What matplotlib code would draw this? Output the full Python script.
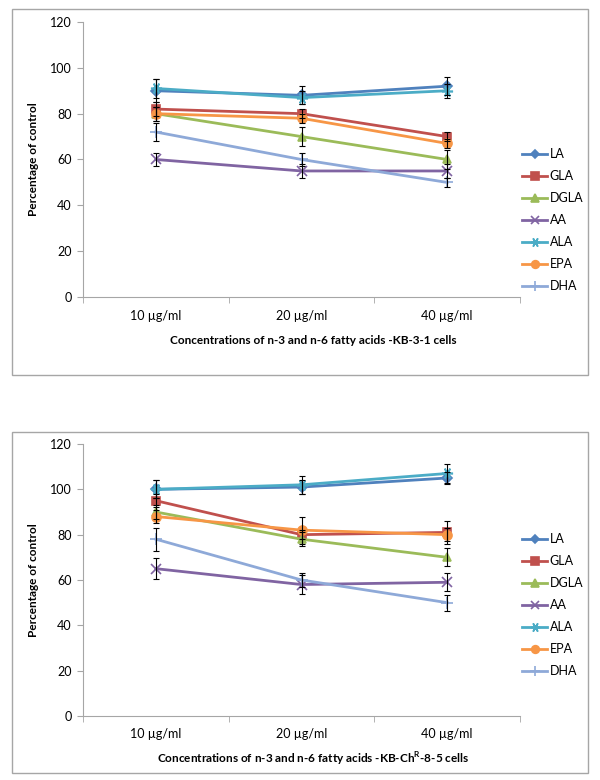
import matplotlib
matplotlib.use("Agg")
import matplotlib.pyplot as plt
from matplotlib.patches import Rectangle

plt.rcParams['font.family'] = ['Lato', 'DejaVu Sans']
plt.rcParams['mathtext.fontset'] = 'custom'
plt.rcParams['mathtext.rm'] = 'Lato'
plt.rcParams['mathtext.bf'] = 'Lato:bold'

conc = ['10 µg/ml', '20 µg/ml', '40 µg/ml']
acids = ['LA', 'GLA', 'DGLA', 'AA', 'ALA', 'EPA', 'DHA']

# KB-3-1 cells
kb31 = {
    'LA':   [90, 88, 92],
    'GLA':  [82, 80, 70],
    'DGLA': [80, 70, 60],
    'AA':   [60, 55, 55],
    'ALA':  [91, 87, 90],
    'EPA':  [80, 78, 67],
    'DHA':  [72, 60, 50],
}
kb31_err = {
    'LA':   [5, 4, 4],
    'GLA':  [3, 2, 2],
    'DGLA': [3, 4, 4],
    'AA':   [3, 3, 3],
    'ALA':  [4, 3, 3],
    'EPA':  [3, 2, 2],
    'DHA':  [4, 3, 2],
}

# KB-ChR-8-5 cells
kbchr = {
    'LA':   [100, 101, 105],
    'GLA':  [95, 80, 81],
    'DGLA': [90, 78, 70],
    'AA':   [65, 58, 59],
    'ALA':  [100, 102, 107],
    'EPA':  [88, 82, 80],
    'DHA':  [78, 60, 50],
}
kbchr_err = {
    'LA':   [4, 3, 2.5],
    'GLA':  [3, 2, 5],
    'DGLA': [3, 3, 4],
    'AA':   [4.5, 4, 4],
    'ALA':  [4, 4, 4],
    'EPA':  [3, 6, 3],
    'DHA':  [5, 3, 3.5],
}

colors = {'LA': '#4F81BD', 'GLA': '#C0504D', 'DGLA': '#9BBB59', 'AA': '#8064A2',
          'ALA': '#4BACC6', 'EPA': '#F79646', 'DHA': '#8EA9D8'}
markers = {'LA': 'D', 'GLA': 's', 'DGLA': '^', 'AA': 'x',
           'ALA': (6, 2, 90), 'EPA': 'o', 'DHA': '+'}
msizes = {'LA': 5, 'GLA': 6, 'DGLA': 6, 'AA': 7, 'ALA': 8, 'EPA': 6.5, 'DHA': 8}

W, H = 600, 780
fig = plt.figure(figsize=(6, 7.8), dpi=100)

# outer frames
for (x0, y0, x1, y1) in [(12, 9, 588, 375), (12, 432, 588, 773)]:
    fig.patches.append(Rectangle((x0 / W, 1 - y1 / H), (x1 - x0) / W, (y1 - y0) / H,
                                 transform=fig.transFigure, fill=False,
                                 edgecolor='#A6A6A6', linewidth=1))

panels = [
    (kb31, kb31_err, (83, 22, 520, 297), 'Concentrations of n-3 and n-6 fatty acids -KB-3-1 cells', 341, 143),
    (kbchr, kbchr_err, (83, 444, 520, 716),
     r'Concentrations of n-3 and n-6 fatty acids -KB-Ch$^{\mathbf{R}}$-8-5 cells', 759, 528),
]

x = list(range(len(conc)))
for data, err, (l, t, r, b), xtitle, xt_y, leg_y in panels:
    ax = fig.add_axes([l / W, 1 - b / H, (r - l) / W, (b - t) / H])
    handles = []
    for a in acids:
        ax.errorbar(x, data[a], yerr=err[a], fmt='none', ecolor='black',
                    elinewidth=0.8, capsize=2.5, capthick=0.8, zorder=3)
        h, = ax.plot(x, data[a], color=colors[a], marker=markers[a], markersize=msizes[a],
                     linewidth=2, markeredgewidth=1.2, zorder=2, label=a)
        handles.append(h)
    ax.set_ylim(0, 120)
    ax.set_yticks(range(0, 121, 20))
    ax.set_xlim(-0.5, 2.5)
    ax.set_xticks(x)
    ax.set_xticklabels(conc)
    ax.set_xticks([-0.5, 0.5, 1.5, 2.5], minor=True)
    ax.tick_params(axis='x', which='major', length=0, pad=9, labelsize=9)
    ax.tick_params(axis='x', which='minor', length=4, color='#A6A6A6', direction='out')
    ax.tick_params(axis='y', length=4, color='#A6A6A6', direction='out', labelsize=9, pad=4)
    for s in ['top', 'right']:
        ax.spines[s].set_visible(False)
    for s in ['left', 'bottom']:
        ax.spines[s].set_color('#A6A6A6')
    ax.set_ylabel('Percentage of control', fontsize=8.5, fontweight='bold', labelpad=8)
    fig.text(0.5 * (l + r) / W + 0.02, 1 - xt_y / H, xtitle, fontsize=8.5,
             fontweight='bold', ha='center', va='center')
    fig.legend(handles=handles, loc='upper left', bbox_to_anchor=(517 / W, 1 - leg_y / H),
               frameon=False, fontsize=9, labelspacing=0.8, handlelength=2.0,
               handletextpad=0.2, borderaxespad=0, markerscale=0.85)

fig.savefig('out.png', dpi=100)
